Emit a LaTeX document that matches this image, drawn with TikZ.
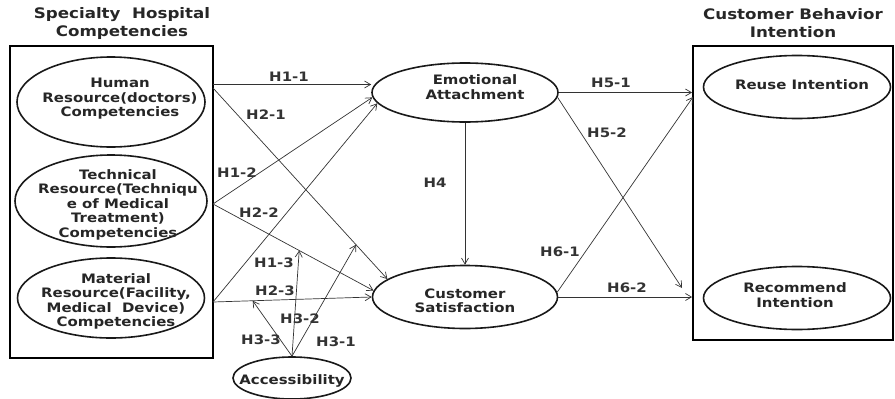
\documentclass[tikz,border=0pt]{standalone}
\usepackage{fontspec}
\setmainfont{DejaVu Sans}[FakeStretch=1.15]
\usetikzlibrary{shapes.geometric,arrows.meta}
\begin{document}
\begin{tikzpicture}[x=1pt,y=-1pt,
  box/.style={draw=black, line width=1.8pt, inner sep=0pt},
  ell/.style={draw=black!90, line width=1.6pt, ellipse, inner sep=0pt},
  etext/.style={align=center, font=\fontsize{13}{14.5}\selectfont\bfseries, text=black!85, inner sep=0pt},
  ttl/.style={align=center, font=\fontsize{14.5}{18}\selectfont\bfseries, text=black!85, inner sep=0pt},
  hyp/.style={font=\fontsize{13}{14}\selectfont\bfseries, text=black!80, inner sep=0pt},
  arr/.style={draw=black!80, line width=0.7pt, -{Straight Barb[length=6pt,width=7pt]}},
]
\useasboundingbox (0,0) rectangle (895,399);

% titles
\node[ttl] (t1) at (122,23) {Specialty\ \ Hospital\\Competencies};
\node[ttl] (t2) at (793,23) {Customer Behavior\\Intention};

% boxes
\node[box, minimum width=203pt, minimum height=312pt] (lbox) at (111.5,202) {};
\node[box, minimum width=200pt, minimum height=294pt] (rbox) at (793,193) {};

% ellipses
\node[ell, minimum width=188pt, minimum height=90pt] (hum) at (111,102) {};
\node[etext] (humt) at (120,99) {Human\\Resource(doctors)\\Competencies};
\node[ell, minimum width=192pt, minimum height=92pt] (tech) at (111,201) {};
\node[etext] (techt) at (118,204.5) {Technical\\Resource(Techniqu\\e of Medical\\Treatment)\\Competencies};
\node[ell, minimum width=187pt, minimum height=80pt] (mat) at (111,298) {};
\node[etext] (matt) at (116,301.5) {Material\\Resource(Facility,\\Medical\ \ Device)\\Competencies};

\node[ell, minimum width=186pt, minimum height=59pt] (ea) at (465,92.5) {};
\node[etext] (eat) at (475,87) {Emotional\\Attachment};
\node[ell, minimum width=185pt, minimum height=63pt] (cs) at (465,297) {};
\node[etext] (cst) at (465,301) {Customer\\Satisfaction};

\node[ell, minimum width=187pt, minimum height=63pt] (ri) at (797,87) {};
\node[etext] (rit) at (802,85) {Reuse Intention};
\node[ell, minimum width=187pt, minimum height=63pt] (rec) at (797,298) {};
\node[etext] (rect) at (795,295) {Recommend\\Intention};

\node[ell, minimum width=118pt, minimum height=42pt] (acc) at (292,378) {};
\node[etext] (acct) at (292,381) {Accessibility};

% start points on left box and free ends
\coordinate (s11) at (213,84.5);
\coordinate (s21) at (213,88);
\coordinate (s2) at (213,204);
\coordinate (s3) at (213,302);
\coordinate (e52) at (682,288);
\coordinate (r61) at (693,97);

% connectors
\draw[arr] (s11) -- (s11 -| ea.west);
\draw[arr] (s21) -- (cs.167) coordinate[pos=0.82] (m1);
\draw[arr] (s2) -- (ea.183);
\draw[arr] (s2) -- (cs.176) coordinate[pos=0.537] (m2);
\draw[arr] (s3) -- (ea.187);
\draw[arr] (s3) -- (cs.180) coordinate[pos=0.25] (m3);
\draw[arr] (acc.north) -- (m1);
\draw[arr] (acc.north) -- (m2);
\draw[arr] (acc.north) -- (m3);
\draw[arr] (ea.south) -- (cs.north);
\draw[arr] (ea.east) -- (ea.east -| rbox.west);
\draw[arr] (ea.-3) -- (e52);
\draw[arr] (cs.3) -- (r61);
\draw[arr] (cs.east) -- (cs.east -| rbox.west);

% hypothesis labels
\node[hyp] (h11) at (289,77) {H1-1};
\node[hyp] (h21) at (266,115) {H2-1};
\node[hyp] (h12) at (237,173) {H1-2};
\node[hyp] (h22) at (259,213) {H2-2};
\node[hyp] (h13) at (274,263) {H1-3};
\node[hyp] (h23) at (275,291) {H2-3};
\node[hyp] (h32) at (300,319) {H3-2};
\node[hyp] (h33) at (261,340) {H3-3};
\node[hyp] (h31) at (336,342) {H3-1};
\node[hyp] (h4) at (435,183) {H4};
\node[hyp] (h51) at (611,83) {H5-1};
\node[hyp] (h52) at (607,133) {H5-2};
\node[hyp] (h61) at (560,252) {H6-1};
\node[hyp] (h62) at (627,288) {H6-2};
\end{tikzpicture}
\end{document}
